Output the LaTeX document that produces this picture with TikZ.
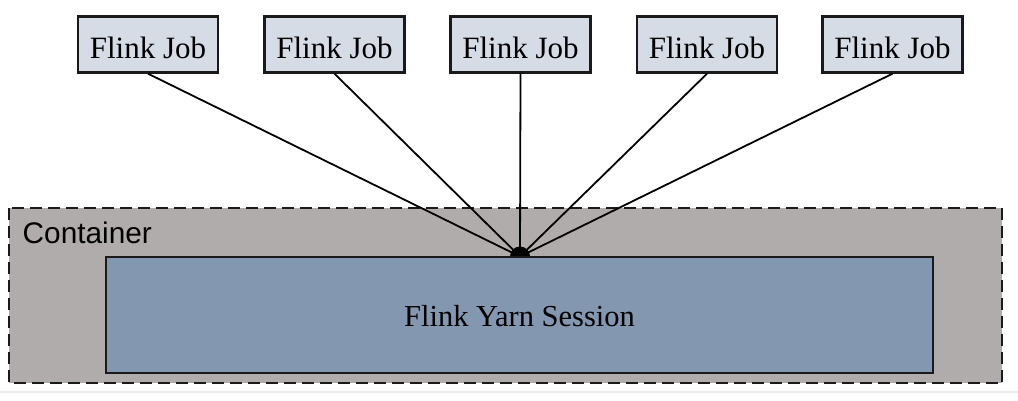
\documentclass[tikz,border=0pt]{standalone}
\usepackage{fontspec}
\setmainfont{Liberation Serif}
\setsansfont{Liberation Sans}
\definecolor{jobfill}{HTML}{D5DCE6}
\definecolor{contfill}{HTML}{B0ACAB}
\definecolor{sessfill}{HTML}{8397B1}
\definecolor{edge}{HTML}{1A1A1A}
\definecolor{rulegray}{HTML}{EEEEEE}
\tikzset{
  jobbox/.style={draw=edge, line width=2.4pt, fill=jobfill, minimum width=140pt, minimum height=56pt, inner sep=0pt, text height=27pt, text depth=0pt, font=\fontsize{31}{37}\selectfont},
  contbox/.style={draw=edge, line width=2pt, fill=contfill, dash pattern=on 12pt off 6pt},
  sessbox/.style={draw=edge, line width=1.8pt, fill=sessfill, inner sep=0pt, text height=23.4pt, text depth=0pt, font=\fontsize{30.5}{36}\selectfont},
  link/.style={draw=black, line width=1.8pt},
}
\begin{document}
\begin{tikzpicture}[x=1pt,y=-1pt]
\useasboundingbox (0,0) rectangle (1018,400);
\fill[white] (0,0) rectangle (1018,400);
\draw[rulegray, line width=1.5pt] (0,392) -- (1018,392);
% container
\draw[contbox] (9,207.5) rectangle (1002,383);
\node[anchor=base west, inner sep=0pt, font=\sffamily\fontsize{29.8}{36}\selectfont] (contlabel) at (22.5,243) {Container};
% jobs
\node[jobbox] (job1) at (148,44.5) {Flink Job};
\node[jobbox] (job2) at (334.5,44.5) {Flink Job};
\node[jobbox] (job3) at (520.5,44.5) {Flink Job};
\node[jobbox] (job4) at (707,44.5) {Flink Job};
\node[jobbox] (job5) at (892.5,44.5) {Flink Job};
\coordinate (hub) at (520,256.5);
\foreach \j in {1,...,5} \draw[link] (job\j.south) -- (hub);
\fill[black] (hub) circle (10pt);
% session
\node[sessbox, minimum width=827pt, minimum height=116pt] (session) at (519.5,315) {Flink Yarn Session};
\end{tikzpicture}
\end{document}
